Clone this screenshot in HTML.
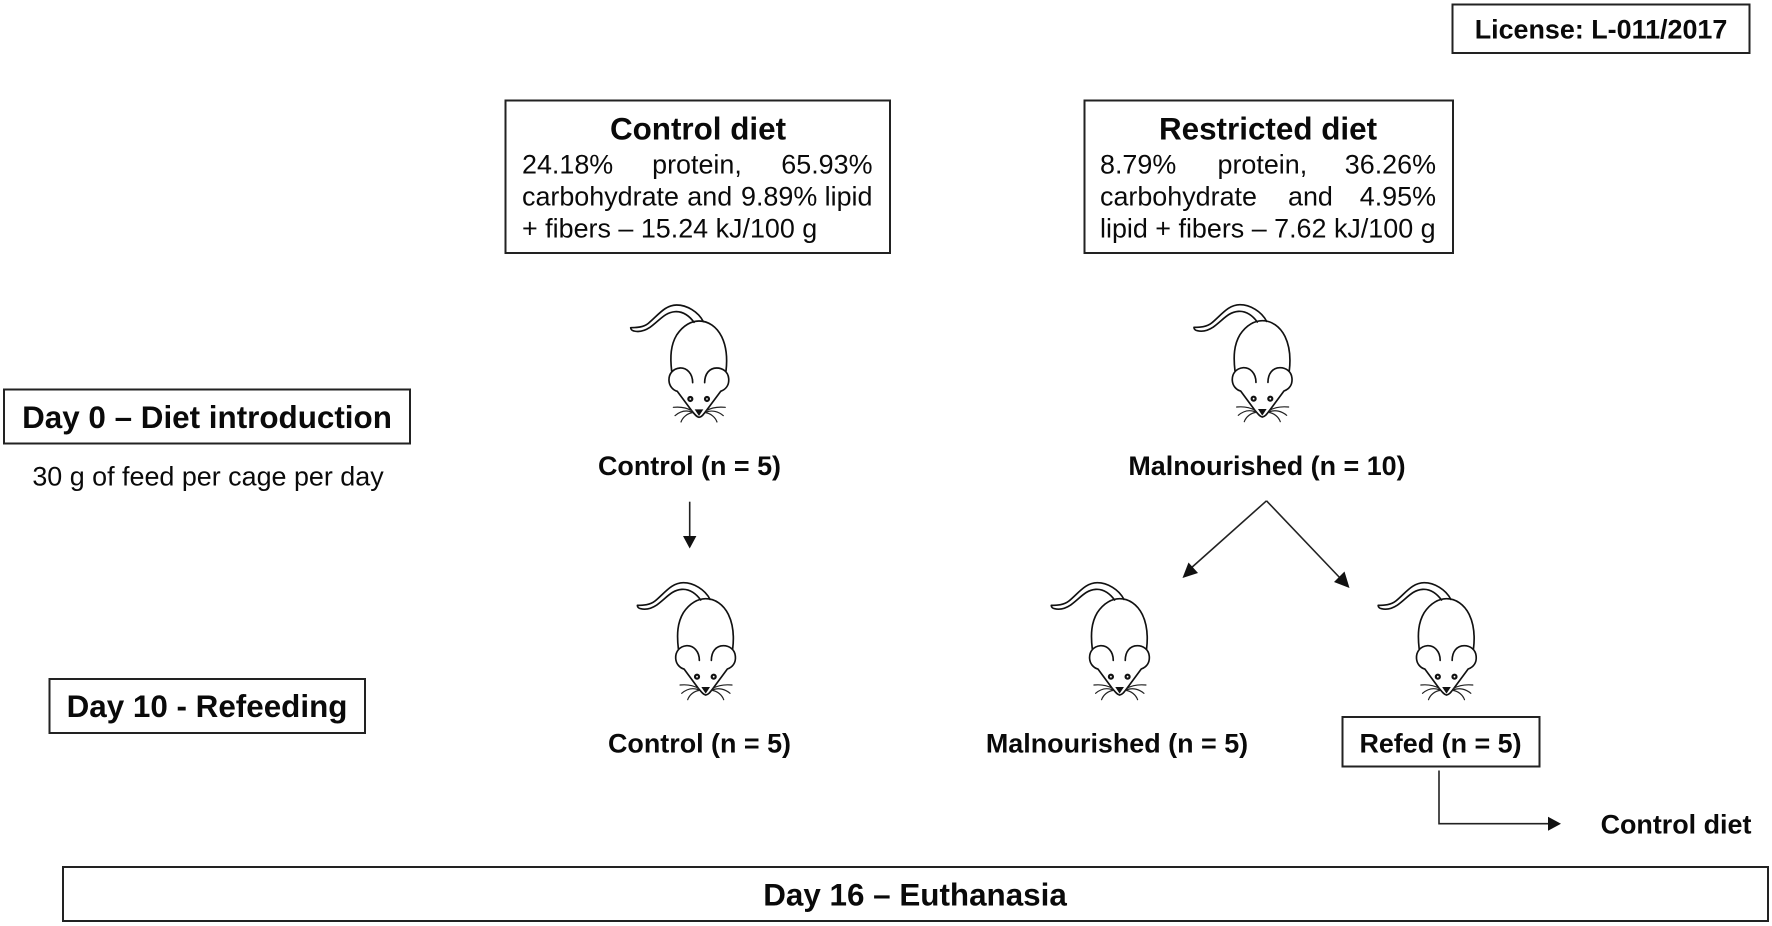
<!DOCTYPE html>
<html lang="en">
<head>
<meta charset="utf-8">
<title>Experimental design diagram</title>
<style>
html,body{margin:0;padding:0;background:#fff;width:1772px;height:926px;overflow:hidden}
svg{display:block;filter:blur(0.35px)}
text{font-family:"Liberation Sans",Arial,sans-serif;fill:#0a0a0a}
.b{font-weight:700}
.t31{font-size:31.4px}
.t27{font-size:26.9px}
.box{fill:#fff;stroke:#222;stroke-width:2}
.ln{fill:none;stroke:#222;stroke-width:1.6}
.m{fill:none;stroke:#111;stroke-width:5;stroke-linecap:round;stroke-linejoin:round}
.w{fill:none;stroke:#222;stroke-width:3.6;stroke-linecap:round}
</style>
</head>
<body>
<svg xmlns="http://www.w3.org/2000/svg" width="1772" height="926" viewBox="0 0 1772 926">
<defs>
<g id="mouse" transform="translate(-79 -122.3) scale(0.3333)">
<path class="m" d="M155,243 C150,200 152,165 170,135 C190,105 215,93 237,93 C265,93 290,110 305,140 C322,175 322,210 318,243"/>
<path class="m" d="M218,278 C218,250 200,233 180,234 C158,236 146,252 147,272 C148,288 158,300 172,304 L215,362 C225,374 230,381 237,382 C245,381 250,374 259,362 L302,304 C318,298 328,285 326,265 C324,245 308,234 290,234 C268,234 254,252 254,278"/>
<path class="m" d="M250,95 C235,65 200,45 170,45 C135,45 115,75 85,100 C70,112 50,113 32,113 C32,118 36,122 42,123 C58,127 75,122 90,112 C120,90 135,67 165,65 C190,63 210,80 222,97"/>
<circle cx="211" cy="327" r="6" fill="#fff" stroke="#111" stroke-width="6.5"/>
<circle cx="261" cy="327" r="6" fill="#fff" stroke="#111" stroke-width="6.5"/>
<path d="M224,358 L250,358 L237,378 Z" fill="#111"/>
<path class="w" d="M215,362 C198,352 180,350 160,352 M215,366 C198,360 180,364 165,377 M218,368 C202,370 188,382 183,396"/>
<path class="w" d="M259,362 C276,352 295,350 316,352 M259,366 C276,360 295,364 310,377 M256,368 C272,370 286,382 291,396"/>
</g>
</defs>
<rect width="1772" height="926" fill="#fff"/>

<g>
<rect class="box" x="1452.5" y="4.5" width="297" height="48.5"/>
<text class="b t27" x="1601" y="38.5" text-anchor="middle">License: L-011/2017</text>
</g>

<g>
<rect class="box" x="505.5" y="100.5" width="384.5" height="152.5"/>
<text class="b t31" x="698" y="139.7" text-anchor="middle">Control diet</text>
<g class="t27">
<text x="522" y="173.5">24.18%</text>
<text x="697" y="173.5" text-anchor="middle">protein,</text>
<text x="872.5" y="173.5" text-anchor="end">65.93%</text>
<text x="522" y="205.5">carbohydrate</text>
<text x="687.3" y="205.5">and</text>
<text x="741" y="205.5">9.89%</text>
<text x="872.5" y="205.5" text-anchor="end">lipid</text>
<text x="522" y="237.5">+ fibers – 15.24 kJ/100 g</text>
</g>
</g>

<g>
<rect class="box" x="1084.5" y="100.5" width="368.5" height="152.5"/>
<text class="b t31" x="1268" y="139.7" text-anchor="middle">Restricted diet</text>
<g class="t27">
<text x="1100" y="173.5">8.79%</text>
<text x="1217.5" y="173.5">protein,</text>
<text x="1436" y="173.5" text-anchor="end">36.26%</text>
<text x="1100" y="205.5">carbohydrate</text>
<text x="1288" y="205.5">and</text>
<text x="1436" y="205.5" text-anchor="end">4.95%</text>
<text x="1100" y="237.5">lipid + fibers – 7.62 kJ/100 g</text>
</g>
</g>

<g>
<rect class="box" x="4" y="389.5" width="406" height="54"/>
<text class="b t31" x="207" y="428" text-anchor="middle">Day 0 – Diet introduction</text>
</g>
<text class="t27" x="208" y="485.5" text-anchor="middle">30 g of feed per cage per day</text>

<g>
<rect class="box" x="49.5" y="679" width="315.5" height="54"/>
<text class="b t31" x="207" y="717" text-anchor="middle">Day 10 - Refeeding</text>
</g>

<g>
<rect class="box" x="63" y="867" width="1705" height="54"/>
<text class="b t31" x="915" y="905.5" text-anchor="middle">Day 16 – Euthanasia</text>
</g>

<use href="#mouse" transform="translate(699 412.3)"/>
<use href="#mouse" transform="translate(1262.3 412)"/>
<use href="#mouse" transform="translate(705.7 690)"/>
<use href="#mouse" transform="translate(1119.6 690)"/>
<use href="#mouse" transform="translate(1446.5 690)"/>

<text class="b t27" x="689.5" y="475" text-anchor="middle">Control (n = 5)</text>
<text class="b t27" x="1267" y="475" text-anchor="middle">Malnourished (n = 10)</text>
<text class="b t27" x="699.5" y="752.5" text-anchor="middle">Control (n = 5)</text>
<text class="b t27" x="1117" y="752.5" text-anchor="middle">Malnourished (n = 5)</text>

<g>
<rect class="box" x="1342.5" y="717" width="197" height="49.5"/>
<text class="b t27" x="1440.5" y="752.5" text-anchor="middle">Refed (n = 5)</text>
</g>
<text class="b t27" x="1676" y="833.5" text-anchor="middle">Control diet</text>

<g>
<path class="ln" d="M689.7,501.7 V537"/>
<path d="M683,536 H696.4 L689.7,548.5 Z" fill="#111"/>
</g>
<g>
<path class="ln" d="M1266.5,500.8 L1190,569"/>
<path d="M1182.5,578 L1188.5,562.5 L1198,573 Z" fill="#111"/>
</g>
<g>
<path class="ln" d="M1266.5,500.8 L1341,579"/>
<path d="M1349.5,588 L1334,582 L1344.5,571.5 Z" fill="#111"/>
</g>
<g>
<path class="ln" d="M1439,770.5 V823.7 H1552"/>
<path d="M1548,816.7 L1561,823.7 L1548,830.7 Z" fill="#111"/>
</g>
</svg>
</body>
</html>
